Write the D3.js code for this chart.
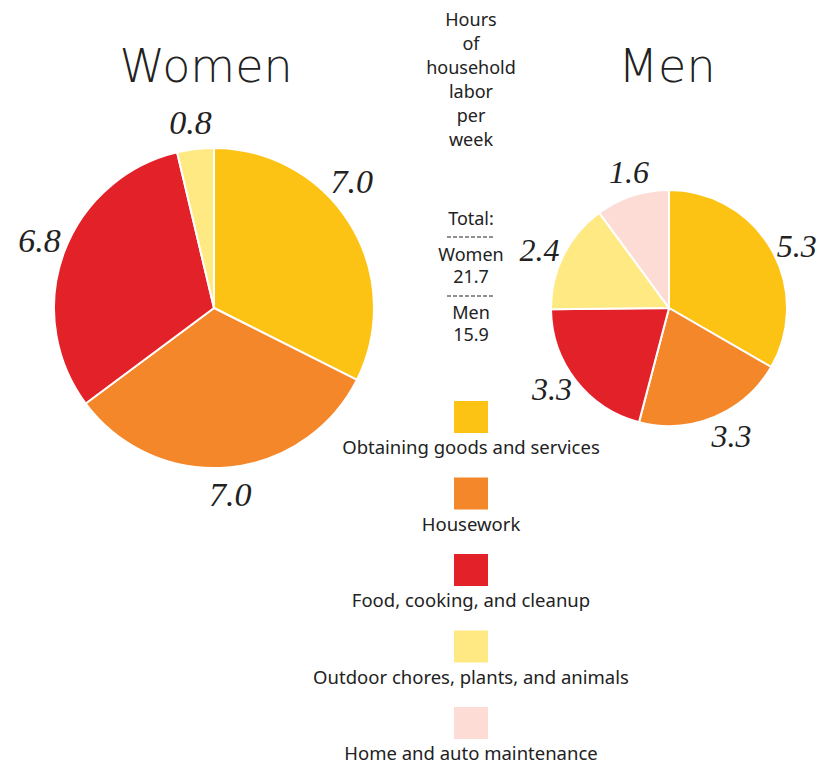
<!DOCTYPE html>
<html>
<head>
<meta charset="utf-8">
<script src="https://cdn.jsdelivr.net/npm/d3@7"></script>
<style>
  body { margin: 0; background: #fff; }
  svg { display: block; }
</style>
</head>
<body>
<script>
const categories = [
  "Obtaining goods and services",
  "Housework",
  "Food, cooking, and cleanup",
  "Outdoor chores, plants, and animals",
  "Home and auto maintenance"
];
const colors = ["#fdc314", "#f4872a", "#e32129", "#ffe983", "#fedcd6"];
const womenValues = [7.0, 7.0, 6.8, 0.8, 0];
const menValues = [5.3, 3.3, 3.3, 2.4, 1.6];
const totals = [["Women", "21.7"], ["Men", "15.9"]];
const headerLines = ["Hours", "of", "household", "labor", "per", "week"];

const width = 818, height = 766;
const svg = d3.select("body").append("svg").attr("width", width).attr("height", height);

const pie = d3.pie().sort(null).value(d => d.value);
const color = d3.scaleOrdinal().domain(categories).range(colors);

const drawPie = (values, cx, cy, r, labelR, nudge, fontSize) => {
  const data = categories.map((c, i) => ({ cat: c, value: values[i] })).filter(d => d.value > 0);
  const arcs = pie(data);
  const arc = d3.arc().innerRadius(0).outerRadius(r);
  const g = svg.append("g").attr("transform", `translate(${cx},${cy})`);
  g.selectAll("path")
    .data(arcs)
    .join("path")
    .attr("d", arc)
    .attr("fill", d => color(d.data.cat))
    .attr("stroke", "#fff")
    .attr("stroke-width", 2)
    .attr("stroke-linejoin", "round");
  g.selectAll("text")
    .data(arcs)
    .join("text")
    .attr("transform", (d, i) => {
      const a = (d.startAngle + d.endAngle) / 2 + (nudge[i] || 0);
      return `translate(${labelR * Math.sin(a)},${-labelR * Math.cos(a)})`;
    })
    .attr("text-anchor", "middle")
    .attr("dy", "0.35em")
    .attr("font-family", "Liberation Serif, serif")
    .attr("font-style", "italic")
    .attr("font-size", fontSize)
    .attr("fill", "#222")
    .text(d => d.data.value.toFixed(1));
};

drawPie(womenValues, 214, 308, 160, 187, [-0.19, 0, 0.02, -0.01], 34);
drawPie(menValues, 669, 308, 118, 142, [0.07, -0.06, 0.06, -0.04, 0.03], 32);

// titles
svg.append("g")
  .attr("font-family", "DejaVu Sans, sans-serif")
  .attr("font-weight", 200)
  .attr("font-size", 46)
  .attr("fill", "#222")
  .attr("text-anchor", "middle")
  .selectAll("text")
  .data([["Women", 206], ["Men", 667]])
  .join("text")
  .attr("x", d => d[1])
  .attr("y", 82)
  .text(d => d[0]);

// center column
const mid = 471;
const txt = svg.append("g")
  .attr("font-family", "Noto Sans, sans-serif")
  .attr("font-size", 18)
  .attr("fill", "#222")
  .attr("text-anchor", "middle");

txt.selectAll("text.h")
  .data(headerLines)
  .join("text")
  .attr("class", "h")
  .attr("x", mid)
  .attr("y", (d, i) => 26 + i * 24)
  .text(d => d);

const totalLines = ["Total:", totals[0][0], totals[0][1], totals[1][0], totals[1][1]];
txt.selectAll("text.t")
  .data(totalLines)
  .join("text")
  .attr("class", "t")
  .attr("x", mid)
  .attr("y", (d, i) => [225, 261, 283, 319, 341][i])
  .text(d => d);

// dashed separators between the totals
svg.append("g")
  .attr("stroke", "#222")
  .attr("stroke-width", 1.2)
  .attr("stroke-dasharray", "4,2")
  .selectAll("line")
  .data([237, 296])
  .join("line")
  .attr("x1", mid - 24)
  .attr("x2", mid + 24)
  .attr("y1", d => d)
  .attr("y2", d => d);

// legend
const legend = svg.append("g");
const item = legend.selectAll("g")
  .data(categories)
  .join("g")
  .attr("transform", (d, i) => `translate(${mid},${401 + i * 76.5})`);
item.append("rect")
  .attr("x", -17)
  .attr("width", 34)
  .attr("height", 32)
  .attr("fill", d => color(d));
item.append("text")
  .attr("y", 53)
  .attr("text-anchor", "middle")
  .attr("font-family", "Noto Sans, sans-serif")
  .attr("font-size", 18.5)
  .attr("fill", "#222")
  .text(d => d);
</script>
</body>
</html>
